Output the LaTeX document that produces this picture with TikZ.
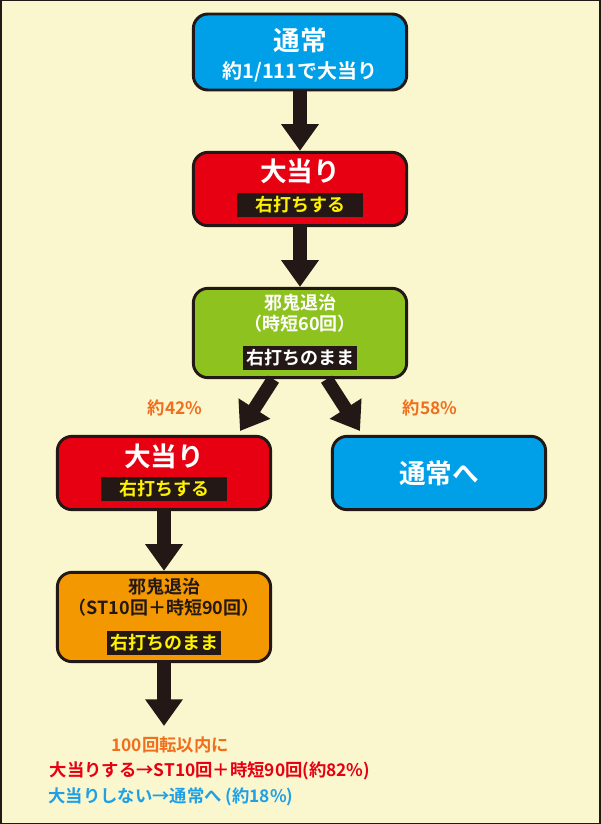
\documentclass[tikz,border=0pt]{standalone}
\usepackage{fontspec}
\setmainfont{Noto Sans CJK JP}[BoldFont={Noto Sans CJK JP Bold}]
\usetikzlibrary{arrows.meta}
\definecolor{bgcream}{HTML}{FAF6CD}
\definecolor{boxblue}{HTML}{00A0E9}
\definecolor{boxred}{HTML}{E60012}
\definecolor{boxgreen}{HTML}{8DC21F}
\definecolor{boxorange}{HTML}{F39800}
\definecolor{bandyellow}{HTML}{FFF100}
\definecolor{txtorange}{HTML}{F06F1E}
\definecolor{txtred}{HTML}{E60012}
\definecolor{txtblue}{HTML}{1EA0E6}
\definecolor{darkline}{HTML}{231815}
\tikzset{
  box/.style={draw=darkline,line width=2.2pt,rounded corners=11pt,minimum width=160pt,align=center,font=\bfseries},
  band/.style={fill=darkline,inner sep=2.5pt,font=\bfseries\fontsize{13.5}{15}\selectfont},
  flow/.style={draw=darkline,line width=10pt,-{Triangle[width=27pt,length=20pt]}},
  pct/.style={text=txtorange,font=\bfseries\fontsize{13}{15}\selectfont}
}
\begin{document}
\begin{tikzpicture}[x=0.75pt,y=-0.75pt]
	\useasboundingbox (0,0) rectangle (600,824);
	\fill[bgcream] (0,0) rectangle (600,824);
	\draw[darkline,line width=1.5pt] (0.5,0.5) rectangle (599.5,823.5);
	
	\node (N1) [box,fill=boxblue,minimum height=57pt] at (300,52) {};
	\node [text=white,font=\bfseries\fontsize{20}{22}\selectfont] at (300,40) {通常};
	\node [text=white,font=\bfseries\fontsize{15}{17}\selectfont] at (300,72) {約1/111で大当り};
	\node (B1) [box,fill=boxred,minimum height=55pt] at (300,189) {};
	\node [text=white,font=\bfseries\fontsize{20}{22}\selectfont] at (300,171) {大当り};
	\node (R1) [band,text=bandyellow,minimum width=94pt] at (300,205) {右打ちする};
	\node (J1) [box,fill=boxgreen,minimum height=67pt] at (300,333) {};
	\node [text=white,align=center,font=\bfseries\fontsize{13.5}{16}\selectfont] at (300,313) {邪鬼退治\\（時短60回）};
	\node (R2) [band,text=white] at (300,358) {右打ちのまま};
	\node (B2) [box,fill=boxred,minimum height=55pt] at (164,473) {};
	\node [text=white,font=\bfseries\fontsize{20}{22}\selectfont] at (164,456) {大当り};
	\node (R3) [band,text=bandyellow,minimum width=94pt] at (164,489) {右打ちする};
	\node (N2) [box,fill=boxblue,minimum height=55pt,text=white,font=\bfseries\fontsize{20}{22}\selectfont] at (439,473) {通常へ};
	\node (J2) [box,fill=boxorange,minimum height=67pt] at (164,617) {};
	\node [text=darkline,align=center,font=\bfseries\fontsize{13.5}{16}\selectfont] at (164,597) {邪鬼退治\\（ST10回＋時短90回）};
	\node (R4) [band,text=bandyellow] at (164,643) {右打ちのまま};
	
	\node (p1) [pct] at (175,408) {約42\%};
	\node (p2) [pct] at (430,408) {約58\%};
	\node (t1) [pct] at (170,745) {100回転以内に};
	\node (t2) [text=txtred,font=\bfseries\fontsize{13}{15}\selectfont] at (210,771) {大当りする→ST10回＋時短90回(約82\%)};
	\node (t3) [text=txtblue,font=\bfseries\fontsize{13}{15}\selectfont] at (171,797) {大当りしない→通常へ (約18\%)};
	
	\coordinate (e1) at (240,431);
	\coordinate (e2) at (360,431);
	\coordinate (e3) at (164,726);
	\draw[flow] (N1.south) -- (B1.north);
	\draw[flow] (B1.south) -- (J1.north);
	\draw[flow] ([xshift=-20pt]J1.south) -- (e1);
	\draw[flow] ([xshift=20pt]J1.south) -- (e2);
	\draw[flow] (B2.south) -- (J2.north);
	\draw[flow] (J2.south) -- (e3);
\end{tikzpicture}
\end{document}
